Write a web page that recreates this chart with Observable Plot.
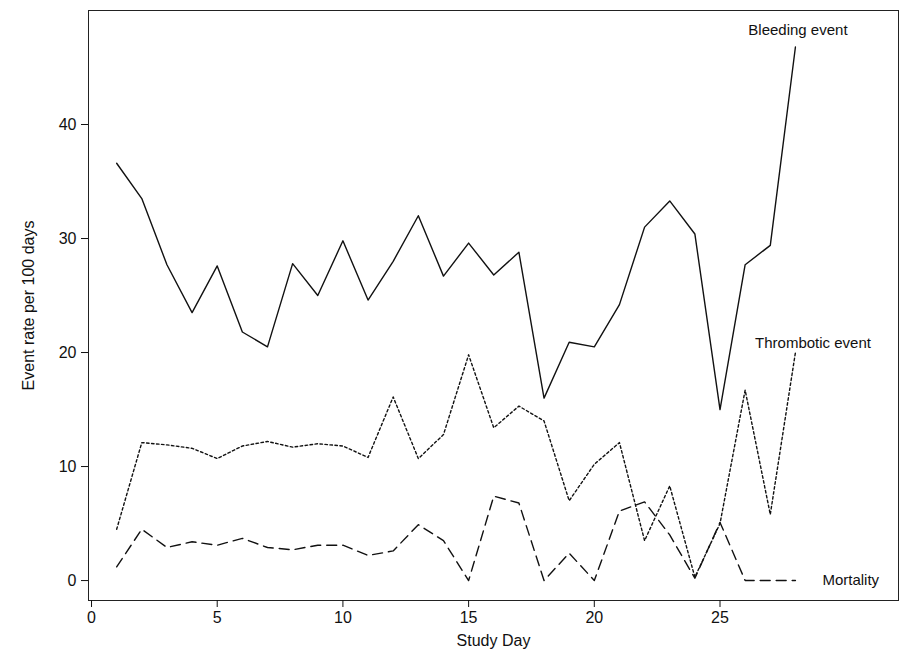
<!DOCTYPE html>
<html><head><meta charset="utf-8">
<script src="https://cdn.jsdelivr.net/npm/d3@7"></script>
<script src="https://cdn.jsdelivr.net/npm/@observablehq/plot@0.6"></script>
<style>body{margin:0;background:#fff}</style>
</head><body><div id="chart"></div>
<script>
const days = d3.range(1, 29)
const bleeding = [36.6,33.5,27.7,23.5,27.6,21.8,20.5,27.8,25,29.8,24.6,28,32,26.7,29.6,26.8,28.8,16,20.9,20.5,24.2,31,33.3,30.4,15,27.7,29.4,46.8]
const thrombotic = [4.5,12.1,11.9,11.6,10.7,11.8,12.2,11.7,12,11.8,10.8,16.1,10.7,12.8,19.8,13.4,15.3,14,7,10.2,12.1,3.5,8.3,0.3,5,16.7,5.8,20]
const mortality = [1.2,4.5,2.9,3.4,3.1,3.7,2.9,2.7,3.1,3.1,2.2,2.6,4.9,3.5,0,7.4,6.8,0,2.4,0,6.1,6.9,4,0.2,5.1,0,0,0]
const labels = [
  {x: 28.1, y: 48.3, t: "Bleeding event"},
  {x: 28.7, y: 20.8, t: "Thrombotic event"},
  {x: 30.2, y: 0, t: "Mortality"}
]
const toRows = vals => days.map((d, i) => ({day: d, v: vals[i]}))

const chart = Plot.plot({
  width: 901, height: 650,
  marginLeft: 88, marginRight: 3, marginTop: 10, marginBottom: 50,
  x: {domain: [-0.12, 32.1]},
  y: {domain: [-1.75, 50]},
  style: {fontFamily: "Liberation Sans, Arial, sans-serif", fontSize: "16px", color: "#111"},
  marks: [
    Plot.frame({stroke: "#222"}),
    Plot.axisX({ticks: [0,5,10,15,20,25], tickSize: 7, tickPadding: 4, fontSize: 16, label: "Study Day", labelAnchor: "center", labelOffset: 45, labelArrow: false}),
    Plot.axisY({ticks: [0,10,20,30,40], tickSize: 7, tickPadding: 5, fontSize: 16, label: "Event rate per 100 days", labelAnchor: "center", labelOffset: 66, labelArrow: false}),
    Plot.line(toRows(bleeding), {x: "day", y: "v", stroke: "#111", strokeWidth: 1.4}),
    Plot.line(toRows(thrombotic), {x: "day", y: "v", stroke: "#111", strokeWidth: 1.4, strokeDasharray: "2.5,2.5"}),
    Plot.line(toRows(mortality), {x: "day", y: "v", stroke: "#111", strokeWidth: 1.4, strokeDasharray: "10,6"}),
    Plot.text(labels, {x: "x", y: "y", text: "t", fontSize: 15, fill: "#111", stroke: "white", strokeWidth: 4, paintOrder: "stroke"})
  ]
})
document.getElementById("chart").append(chart)
</script></body></html>
